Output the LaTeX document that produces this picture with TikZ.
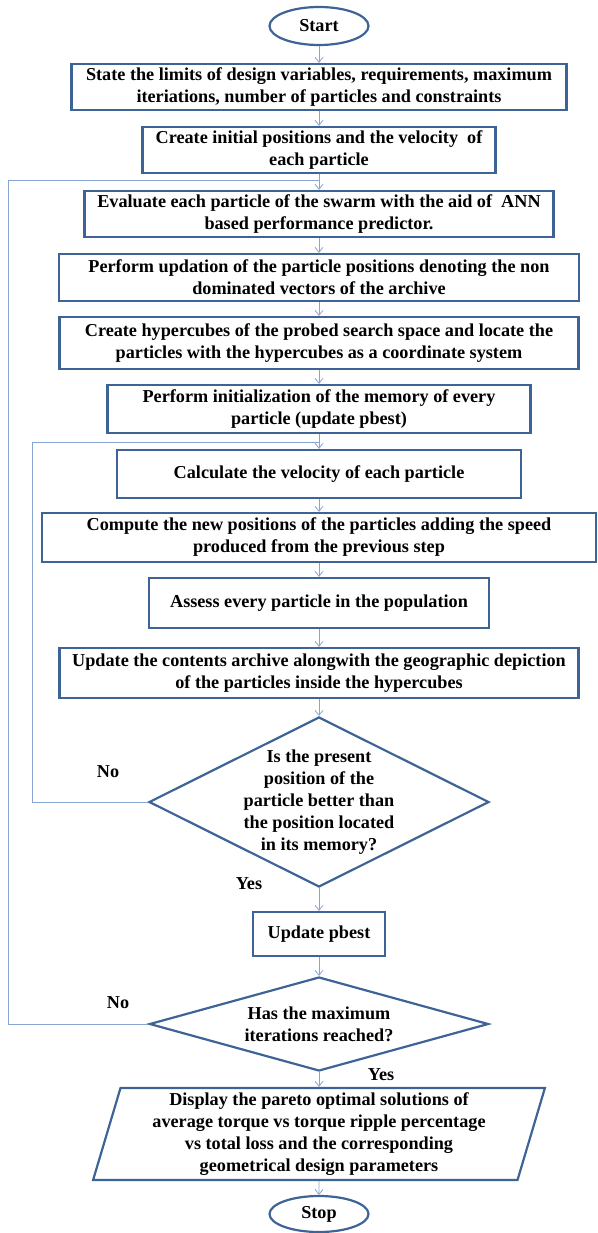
\documentclass[tikz,border=0pt]{standalone}
\usepackage{fontspec}
\setmainfont{Liberation Serif}
\usetikzlibrary{shapes.geometric,arrows.meta}
\definecolor{boxblue}{RGB}{62,100,150}
\definecolor{lineblue}{RGB}{135,165,210}

\begin{document}
\begin{tikzpicture}[x=1pt, y=-1pt,
                    font=\fontsize{18.2}{22}\selectfont\bfseries,
                    line width=2.2pt]
    \tikzstyle{process}=[rectangle, draw=boxblue, align=center, inner sep=2pt]
    \tikzstyle{terminal}=[process, ellipse, minimum width=99pt, minimum height=38pt]
    \tikzstyle{decision}=[process, diamond, inner sep=0pt]
    \tikzstyle{io}=[process, trapezium, trapezium left angle=75, trapezium right angle=105,
                    trapezium stretches=true]
    \tikzstyle{flow}=[draw=lineblue, line width=0.8pt, -{Straight Barb[length=5pt,width=8pt]}]
    \tikzstyle{backline}=[draw=lineblue, line width=1pt]

    \useasboundingbox (0,0) rectangle (597,1233);

    \node[terminal] (start) at (319,26) {Start};
    \node[process, minimum width=495pt, minimum height=46pt] (limits) at (319,87)
        {State the limits of design variables, requirements, maximum\\
         iteriations, number of particles and constraints};
    \node[process, minimum width=353pt, minimum height=46pt] (init) at (319,150)
        {Create initial positions and the velocity \ of\\each particle};
    \node[process, minimum width=469pt, minimum height=46pt] (eval) at (319,214)
        {Evaluate each particle of the swarm with the aid of \ ANN\\
         based performance predictor.};
    \node[process, minimum width=520pt, minimum height=47pt] (updation) at (319,277.5)
        {Perform updation of the particle positions denoting the non\\
         dominated vectors of the archive};
    \node[process, minimum width=519pt, minimum height=52pt] (hyper) at (319,343)
        {Create hypercubes of the probed search space and locate the\\
         particles with the hypercubes as a coordinate system};
    \node[process, minimum width=423pt, minimum height=48pt] (memory) at (319,409)
        {Perform initialization of the memory of every\\particle (update pbest)};
    \node[process, minimum width=404pt, minimum height=48pt] (velocity) at (319,474)
        {Calculate the velocity of each particle};
    \node[process, minimum width=554pt, minimum height=49pt] (compute) at (319,537.5)
        {Compute the new positions of the particles adding the speed\\
         produced from the previous step};
    \node[process, minimum width=340pt, minimum height=50pt] (assess) at (319,603)
        {Assess every particle in the population};
    \node[process, minimum width=519pt, minimum height=50pt] (archive) at (319,673)
        {Update the contents archive alongwith the geographic depiction\\
         of the particles inside the hypercubes};
    \node[decision, minimum width=340pt, minimum height=170pt] (better) at (319,802) {};
    \node[align=center] (betterq) at (better)
        {Is the present\\position of the\\particle better than\\the position located\\in its memory?};
    \node[process, minimum width=132pt, minimum height=44pt] (pbest) at (319,934) {Update pbest};
    \node[decision, minimum width=339pt, minimum height=94pt] (maxit) at (319,1024) {};
    \node[align=center] (maxitq) at (maxit) {Has the maximum\\iterations reached?};
    \node[io, minimum width=454pt, minimum height=92pt] (display) at (319,1134)
        {Display the pareto optimal solutions of\\
         average torque vs torque ripple percentage\\
         vs total loss and the corresponding\\
         geometrical design parameters};
    \node[terminal, minimum height=36pt] (stop) at (319,1214) {Stop};

    \node (no1) at (108,772) {No};
    \node (yes1) at (249,884) {Yes};
    \node (no2) at (118,1003) {No};
    \node (yes2) at (381,1075) {Yes};

    \draw[flow] (start) -- (limits);
    \draw[flow] (limits) -- (init);
    \draw[flow] (init) -- (eval);
    \draw[flow] (eval) -- (updation);
    \draw[flow] (updation) -- (hyper);
    \draw[flow] (hyper) -- (memory);
    \draw[flow] (memory) -- (velocity);
    \draw[flow] (velocity) -- (compute);
    \draw[flow] (compute) -- (assess);
    \draw[flow] (assess) -- (archive);
    \draw[flow] (archive) -- (better);
    \draw[flow] (better) -- (pbest);
    \draw[flow] (pbest) -- (maxit);
    \draw[flow] (maxit) -- (display);
    \draw[flow] (display) -- (stop);

    \coordinate (outer) at (8,181);
    \coordinate (inner) at (32,442);
    \draw[backline] (better.west) -| (inner) -- (inner -| velocity.north);
    \draw[backline] (maxit.west) -| (outer) -- (outer -| eval.north);
\end{tikzpicture}
\end{document}
